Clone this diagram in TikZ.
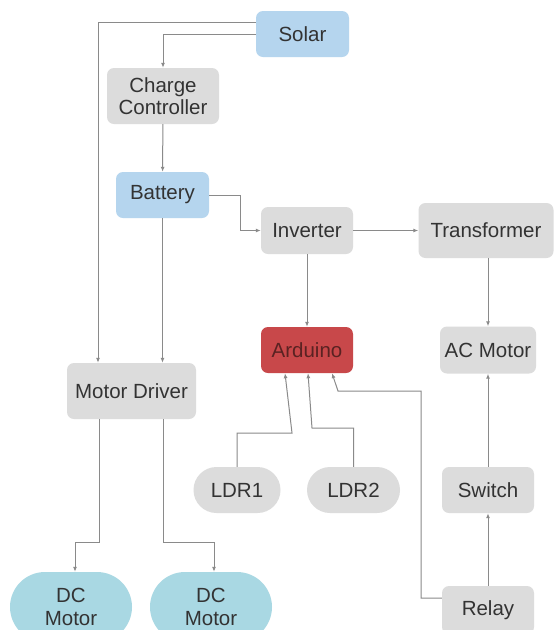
\documentclass[tikz,border=0pt]{standalone}
\usepackage{fontspec}
\setmainfont{Liberation Sans}
\usetikzlibrary{arrows.meta}
\definecolor{boxgray}{HTML}{DCDCDC}
\definecolor{boxblue}{HTML}{B5D5EE}
\definecolor{boxred}{HTML}{C8484A}
\definecolor{boxcyan}{HTML}{A9D8E3}
\definecolor{txtgray}{HTML}{333333}
\definecolor{txtred}{HTML}{5A2222}
\definecolor{linegray}{HTML}{8A8A8A}
\begin{document}
\begin{tikzpicture}[x=1pt, y={(0,-1pt)},
  box/.style={fill=boxgray, rounded corners=7pt, inner sep=0pt, align=center,
    text=txtgray, font=\fontsize{20.5}{22.5}\selectfont},
  pill/.style={box, rounded corners=23pt},
  conn/.style={draw=linegray, line width=1pt, -{Latex[length=5pt,width=4pt]}}]
\useasboundingbox (0,0) rectangle (554,630);
\fill[white] (0,0) rectangle (554,630);
\clip (0,0) rectangle (554,630);
\node[box, fill=boxblue, minimum width=93, minimum height=46] (solar) at (302.5,34) {Solar};
\node[box, minimum width=112, minimum height=56] (charge) at (163,96) {Charge\\Controller};
\node[box, fill=boxblue, minimum width=93, minimum height=46] (battery) at (162.5,195) {Battery};
\node[box, minimum width=92, minimum height=47] (inverter) at (307,230.5) {Inverter};
\node[box, minimum width=135, minimum height=55] (transformer) at (486,230.5) {Transformer};
\node[box, fill=boxred, text=txtred, minimum width=92, minimum height=46] (arduino) at (307,350) {Arduino};
\node[box, minimum width=96, minimum height=47] (acmotor) at (488,350) {AC Motor};
\node[box, minimum width=129, minimum height=56] (motordriver) at (131.5,391) {Motor Driver};
\node[pill, minimum width=87, minimum height=46] (ldr1) at (237,490) {LDR1};
\node[pill, minimum width=93, minimum height=46] (ldr2) at (353.5,490) {LDR2};
\node[box, minimum width=92, minimum height=46] (switch) at (488,490) {Switch};
\node[box, minimum width=92, minimum height=48] (relay) at (488,610) {Relay};
\node[pill, fill=boxcyan, rounded corners=35pt, minimum width=122, minimum height=70] (dc1) at (71,607) {DC\\Motor};
\node[pill, fill=boxcyan, rounded corners=35pt, minimum width=122, minimum height=70] (dc2) at (211,607) {DC\\Motor};

\draw[conn] ([yshift=12pt]solar.west) -| ([xshift=-33.5pt]motordriver.north);
\draw[conn] (solar.west) -| (charge.north);
\draw[conn] (charge) -- (battery);
\draw[conn] (battery.east) -- ++(31,0) |- (inverter.west);
\draw[conn] (battery.south) -- (motordriver.north -| battery.south);
\draw[conn] (inverter) -- (arduino);
\draw[conn] (inverter) -- (transformer);
\draw[conn] (transformer.south -| acmotor.north) -- (acmotor.north);
\draw[conn] (switch) -- (acmotor);
\draw[conn] (relay) -- (switch);
\draw[conn] ([yshift=12pt]relay.west) -| (421,391) -- (338,391) -- ([xshift=25pt]arduino.south);
\draw[conn] (ldr1.north) |- (292,433) -- ([xshift=-22pt]arduino.south);
\draw[conn] (ldr2.north) |- (312,428) -- ([xshift=1pt]arduino.south);
\draw[conn] ([xshift=-32.5pt]motordriver.south) -- ++(0,123) -| ([xshift=4pt]dc1.north);
\draw[conn] ([xshift=31.5pt]motordriver.south) -- ++(0,123) -| ([xshift=3pt]dc2.north);
\end{tikzpicture}
\end{document}
